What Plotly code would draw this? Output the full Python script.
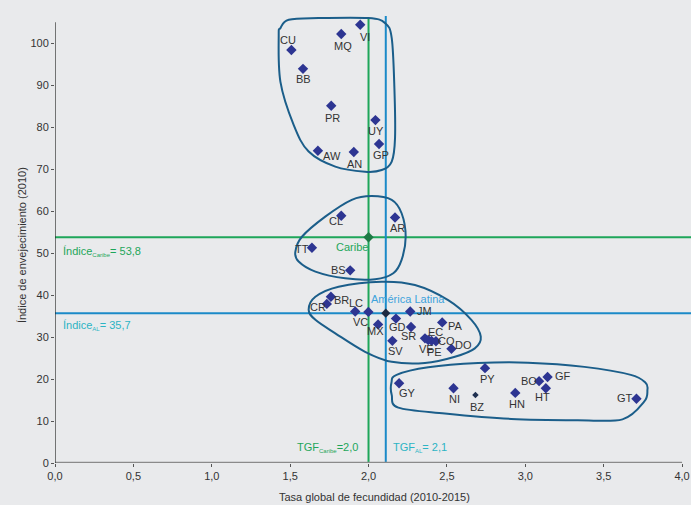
import plotly.graph_objects as go

# ---------------- data ----------------
countries = ["VI", "MQ", "CU", "BB", "PR", "UY", "GP", "AW", "AN",
             "CL", "AR", "TT", "BS",
             "BR", "CR", "LC", "VC", "JM", "GD", "MX", "SR", "PA", "EC", "VE", "PE", "CO", "DO", "SV",
             "PY", "GY", "NI", "BZ", "HN", "BO", "GF", "HT", "GT"]
tgf = [1.947, 1.826, 1.508, 1.582, 1.762, 2.044, 2.067, 1.677, 1.906,
       1.826, 2.169, 1.639, 1.883,
       1.760, 1.734, 1.915, 1.999, 2.266, 2.175, 2.061, 2.271, 2.470, 2.360, 2.381, 2.402, 2.430, 2.529, 2.152,
       2.743, 2.195, 2.542, 2.682, 2.936, 3.088, 3.142, 3.131, 3.709]
indice = [104.4, 102.2, 98.4, 93.9, 85.1, 81.7, 76.0, 74.4, 74.1,
          58.9, 58.5, 51.3, 45.9,
          39.6, 37.9, 36.1, 36.0, 36.1, 34.4, 33.0, 32.4, 33.5, 29.7, 29.3, 29.1, 29.0, 27.2, 29.1,
          22.6, 19.0, 17.8, 16.2, 16.7, 19.5, 20.5, 17.8, 15.3]

caribe_tgf, caribe_idx = 2.0, 53.8
al_tgf, al_idx = 2.11, 35.7

x_ticks = [0.0, 0.5, 1.0, 1.5, 2.0, 2.5, 3.0, 3.5, 4.0]
x_tick_labels = ["0,0", "0,5", "1,0", "1,5", "2,0", "2,5", "3,0", "3,5", "4,0"]
y_ticks = [0, 10, 20, 30, 40, 50, 60, 70, 80, 90, 100]

# ---------------- styles ----------------
BG = "#e9eaec"
NAVY = "#2d3592"
GREEN = "#1ea65a"
BLUE = "#1b8ac8"
TEAL = "#2cb4c4"
LIGHTBLUE = "#3ea3dc"
OUTLINE = "#1b5e8a"
TXT = "#333333"
FONT = "Liberation Sans, Arial, sans-serif"

# label offsets in pixels (dx, dy-up)
label_off = {
    "CU": (-3, 10), "MQ": (2, -12), "VI": (5, -12), "BB": (0, -10), "PR": (1, -12),
    "UY": (1, -11), "GP": (2, -11), "AW": (14, -5), "AN": (1, -12),
    "CL": (-5, -5), "AR": (2, -11), "TT": (-10, -1), "BS": (-12, 0),
    "BR": (11, -3), "CR": (-9, -3), "LC": (1, 8), "VC": (-8, -10), "JM": (14, 0),
    "GD": (2, -8), "MX": (-3, -7), "SR": (-3, -9), "PA": (13, -4), "EC": (11, 6),
    "VE": (-2, -9), "PE": (3, -11), "CO": (11, 0), "DO": (12, 4), "SV": (3, -10),
    "PY": (2, -11), "GY": (8, -10), "NI": (1, -11), "BZ": (2, -12), "HN": (2, -11),
    "BO": (-10, 0), "GF": (15, 1), "HT": (-3, -9), "GT": (-11, 1),
}

# enclosure outlines (data coordinates, smoothed)
outline_top = [(1.427, 102.0), (1.438, 90.8), (1.523, 80.5), (1.618, 74.2), (1.788, 70.6),
               (1.978, 69.4), (2.084, 69.8), (2.148, 71.8), (2.169, 77.4), (2.165, 89.3),
               (2.148, 101.2), (2.106, 104.8), (1.999, 106.0), (1.681, 106.0), (1.491, 105.6),
               (1.438, 103.6)]
outline_caribe = [(2.020, 63.6), (2.148, 62.7), (2.211, 59.5), (2.237, 53.9), (2.211, 48.4),
                  (2.158, 45.2), (2.042, 43.8), (1.851, 44.0), (1.661, 45.6), (1.554, 48.0),
                  (1.533, 50.3), (1.575, 53.9), (1.724, 58.7), (1.893, 62.7)]
outline_al = [(1.661, 39.6), (1.809, 42.0), (2.084, 43.2), (2.296, 42.4), (2.508, 38.8),
              (2.656, 34.1), (2.716, 30.1), (2.678, 27.3), (2.551, 25.3), (2.360, 23.8),
              (2.148, 24.1), (1.978, 26.5), (1.788, 30.9), (1.661, 34.1), (1.618, 36.5)]
outline_bottom = [(2.179, 21.0), (2.381, 22.8), (2.699, 23.8), (3.017, 23.9), (3.377, 22.9),
                  (3.673, 21.0), (3.767, 19.1), (3.779, 17.4), (3.758, 14.6), (3.620, 10.4),
                  (3.334, 10.2), (2.910, 10.5), (2.487, 11.8), (2.190, 13.2), (2.148, 16.2),
                  (2.146, 19.1)]


def smooth_path(pts):
    n = len(pts)
    d = "M {},{}".format(*pts[0])
    for i in range(n):
        p0 = pts[(i - 1) % n]
        p1 = pts[i]
        p2 = pts[(i + 1) % n]
        p3 = pts[(i + 2) % n]
        c1 = (p1[0] + (p2[0] - p0[0]) / 6, p1[1] + (p2[1] - p0[1]) / 6)
        c2 = (p2[0] - (p3[0] - p1[0]) / 6, p2[1] - (p3[1] - p1[1]) / 6)
        d += " C {:.4f},{:.3f} {:.4f},{:.3f} {:.4f},{:.3f}".format(c1[0], c1[1], c2[0], c2[1], p2[0], p2[1])
    return d + " Z"


fig = go.Figure()

# country markers
main_idx = [i for i, c in enumerate(countries) if c != "BZ"]
fig.add_trace(go.Scatter(
    x=[tgf[i] for i in main_idx], y=[indice[i] for i in main_idx],
    mode="markers", marker=dict(symbol="diamond", size=8, color=NAVY),
    cliponaxis=False, hoverinfo="text", text=[countries[i] for i in main_idx]))
bz = countries.index("BZ")
fig.add_trace(go.Scatter(
    x=[tgf[bz]], y=[indice[bz]], mode="markers",
    marker=dict(symbol="diamond", size=5, color="#1f3050"), hoverinfo="skip"))
fig.add_trace(go.Scatter(
    x=[caribe_tgf], y=[caribe_idx], mode="markers",
    marker=dict(symbol="diamond", size=8, color="#1d7a45"), hoverinfo="skip"))
fig.add_trace(go.Scatter(
    x=[al_tgf], y=[al_idx], mode="markers",
    marker=dict(symbol="diamond", size=7, color="#1e2a40"), hoverinfo="skip"))

shapes = []
# reference lines
shapes.append(dict(type="line", xref="x", yref="y", x0=0, x1=4.06, y0=caribe_idx, y1=caribe_idx,
                   line=dict(color=GREEN, width=2), layer="below"))
shapes.append(dict(type="line", xref="x", yref="y", x0=0, x1=4.06, y0=al_idx, y1=al_idx,
                   line=dict(color=BLUE, width=2), layer="below"))
shapes.append(dict(type="line", xref="x", yref="y", x0=caribe_tgf, x1=caribe_tgf, y0=0, y1=105.8,
                   line=dict(color=GREEN, width=2), layer="below"))
shapes.append(dict(type="line", xref="x", yref="y", x0=al_tgf, x1=al_tgf, y0=0, y1=106.5,
                   line=dict(color=BLUE, width=2), layer="below"))
# enclosures
for pts in (outline_top, outline_caribe, outline_al, outline_bottom):
    shapes.append(dict(type="path", xref="x", yref="y", path=smooth_path(pts),
                       line=dict(color=OUTLINE, width=2), fillcolor="rgba(0,0,0,0)", layer="below"))
# axis lines
shapes.append(dict(type="line", xref="x", yref="y", x0=0, x1=4.0, y0=0, y1=0,
                   line=dict(color="#8a8a8a", width=2.5)))
shapes.append(dict(type="line", xref="x", yref="y", x0=0, x1=0, y0=0, y1=105,
                   line=dict(color="#222222", width=1.2)))

annotations = []
for c, x, y in zip(countries, tgf, indice):
    dx, dy = label_off[c]
    annotations.append(dict(x=x, y=y, xref="x", yref="y", text=c, showarrow=False,
                            xshift=dx, yshift=dy, font=dict(size=11, color=TXT, family=FONT)))

annotations.append(dict(x=caribe_tgf, y=caribe_idx, text="Caribe", showarrow=False,
                        xshift=-17, yshift=-10, font=dict(size=11, color=GREEN, family=FONT)))
annotations.append(dict(x=al_tgf, y=al_idx, text="América Latina", showarrow=False,
                        xshift=22, yshift=14, font=dict(size=11, color=LIGHTBLUE, family=FONT)))
annotations.append(dict(x=0, y=caribe_idx, xanchor="left", yanchor="middle", showarrow=False,
                        xshift=6, yshift=-14,
                        text="Índice<sub><span style='font-size:6px'>Caribe</span></sub>= 53,8",
                        font=dict(size=11, color=GREEN, family=FONT)))
annotations.append(dict(x=0, y=al_idx, xanchor="left", yanchor="middle", showarrow=False,
                        xshift=6, yshift=-12,
                        text="Índice<sub><span style='font-size:6px'>AL</span></sub>= 35,7",
                        font=dict(size=11, color=TEAL, family=FONT)))
annotations.append(dict(x=caribe_tgf, y=0, xanchor="right", yanchor="middle", showarrow=False,
                        xshift=-9, yshift=16,
                        text="TGF<sub><span style='font-size:6px'>Caribe</span></sub>=2,0",
                        font=dict(size=11, color=GREEN, family=FONT)))
annotations.append(dict(x=al_tgf, y=0, xanchor="left", yanchor="middle", showarrow=False,
                        xshift=5, yshift=16,
                        text="TGF<sub><span style='font-size:6px'>AL</span></sub>= 2,1",
                        font=dict(size=11, color=TEAL, family=FONT)))
# axis titles
annotations.append(dict(xref="paper", yref="paper", x=-0.052, y=0.483, textangle=-90,
                        xanchor="center", yanchor="middle",
                        text="Índice de envejecimiento (2010)", showarrow=False,
                        font=dict(size=11, color=TXT, family=FONT)))
annotations.append(dict(xref="paper", yref="paper", x=0.503, y=-0.075,
                        xanchor="center", yanchor="middle",
                        text="Tasa global de fecundidad (2010-2015)", showarrow=False,
                        font=dict(size=11, color=TXT, family=FONT)))

fig.update_layout(
    width=691, height=505,
    margin=dict(l=55, r=0, t=12, b=42),
    paper_bgcolor=BG, plot_bgcolor=BG,
    showlegend=False,
    separators=",.",
    font=dict(family=FONT, size=11, color=TXT),
    shapes=shapes, annotations=annotations,
    xaxis=dict(range=[0, 4.057], tickvals=x_ticks, ticktext=x_tick_labels, showgrid=False,
               zeroline=False, showline=False, ticks="outside", ticklen=3, tickcolor="#555555",
               tickfont=dict(size=11, color=TXT), ticklabeloverflow="allow"),
    yaxis=dict(range=[0, 107.45], tickvals=y_ticks, showgrid=False, zeroline=False, showline=False,
               ticks="outside", ticklen=3, tickcolor="#555555", tickfont=dict(size=11, color=TXT)),
)

fig.write_html(
    "out.html",
    config={"displayModeBar": False},
    post_script="document.body.style.margin='0';document.body.style.overflow='hidden';"
                "document.body.style.background='" + BG + "';",
)
